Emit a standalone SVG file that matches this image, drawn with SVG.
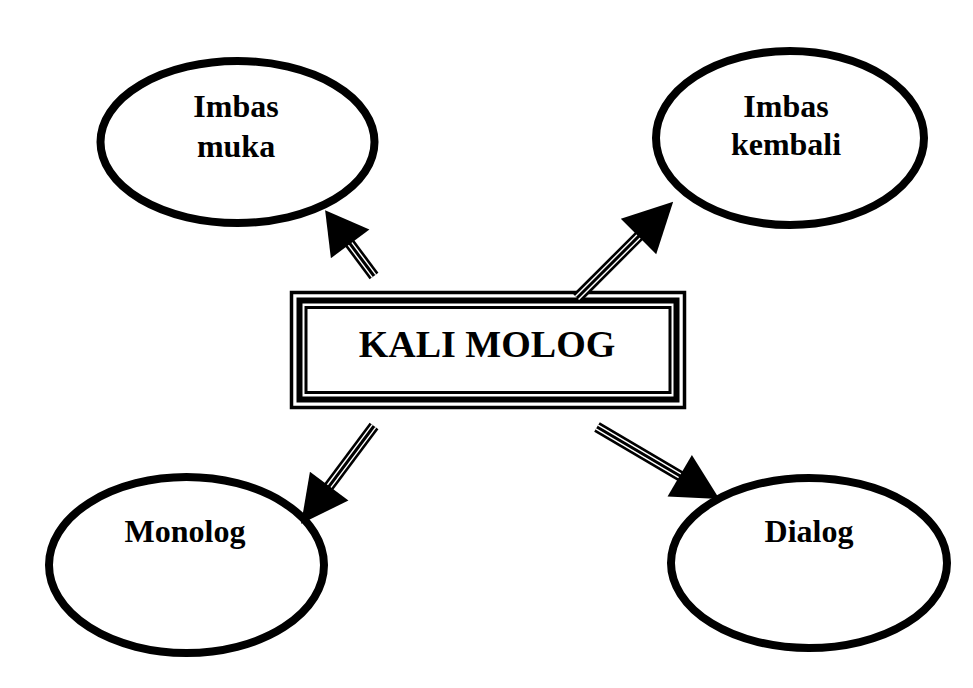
<svg xmlns="http://www.w3.org/2000/svg" width="973" height="688" viewBox="0 0 973 688">
<style>
.ell{fill:#fff;stroke:#000;stroke-width:8}
.lbl{font-family:"Liberation Serif","Times New Roman",serif;font-weight:bold;font-size:32px;fill:#000;text-anchor:middle}
.title{font-family:"Liberation Serif","Times New Roman",serif;font-weight:bold;font-size:38px;fill:#000;text-anchor:middle}
.shaft{stroke:#000;stroke-width:11;fill:none}
.gap{stroke:#fff;stroke-width:1.4;fill:none}
.head{fill:#000}
</style>
<rect width="973" height="688" fill="#fff"/>
<g id="imbas-muka">
<ellipse class="ell" cx="237.5" cy="142" rx="137" ry="81"/>
<text class="lbl" x="236" y="117">Imbas</text>
<text class="lbl" x="236" y="157">muka</text>
</g>
<g id="imbas-kembali">
<ellipse class="ell" cx="790" cy="138" rx="134" ry="87"/>
<text class="lbl" x="786" y="117">Imbas</text>
<text class="lbl" x="786" y="155">kembali</text>
</g>
<g id="monolog">
<ellipse class="ell" cx="186.5" cy="565" rx="137.5" ry="88"/>
<text class="lbl" x="185" y="542">Monolog</text>
</g>
<g id="dialog">
<ellipse class="ell" cx="809" cy="563" rx="138" ry="85"/>
<text class="lbl" x="809" y="542">Dialog</text>
</g>
<g id="kali-molog">
<rect x="291.5" y="292.5" width="393" height="115" fill="#fff" stroke="#000" stroke-width="3.5"/>
<rect x="299.5" y="300.5" width="377" height="99" fill="none" stroke="#000" stroke-width="6"/>
<rect x="306" y="307.5" width="364" height="85" fill="none" stroke="#000" stroke-width="3"/>
<text class="title" x="487" y="357">KALI MOLOG</text>
</g>
<g id="connectors">
<g transform="translate(374,276) rotate(-126.6)">
<line class="shaft" x1="0" y1="0" x2="44" y2="0"/>
<line class="gap" x1="0" y1="-2.2" x2="44" y2="-2.2"/>
<line class="gap" x1="0" y1="2.2" x2="44" y2="2.2"/>
<polygon class="head" points="40,-24 82,0 40,24"/>
</g>
<g transform="translate(577,298) rotate(-45)">
<line class="shaft" x1="0" y1="0" x2="90" y2="0"/>
<line class="gap" x1="0" y1="-2.2" x2="90" y2="-2.2"/>
<line class="gap" x1="0" y1="2.2" x2="90" y2="2.2"/>
<polygon class="head" points="87,-25 136,0 87,25"/>
</g>
<g transform="translate(374,426) rotate(126.7)">
<line class="shaft" x1="0" y1="0" x2="78" y2="0"/>
<line class="gap" x1="0" y1="-2.2" x2="78" y2="-2.2"/>
<line class="gap" x1="0" y1="2.2" x2="78" y2="2.2"/>
<polygon class="head" points="75,-24 122,0 75,24"/>
</g>
<g transform="translate(597,427) rotate(30.5)">
<line class="shaft" x1="0" y1="0" x2="99" y2="0"/>
<line class="gap" x1="0" y1="-2.2" x2="99" y2="-2.2"/>
<line class="gap" x1="0" y1="2.2" x2="99" y2="2.2"/>
<polygon class="head" points="96,-24 142,0 96,24"/>
</g>
</g>
</svg>
